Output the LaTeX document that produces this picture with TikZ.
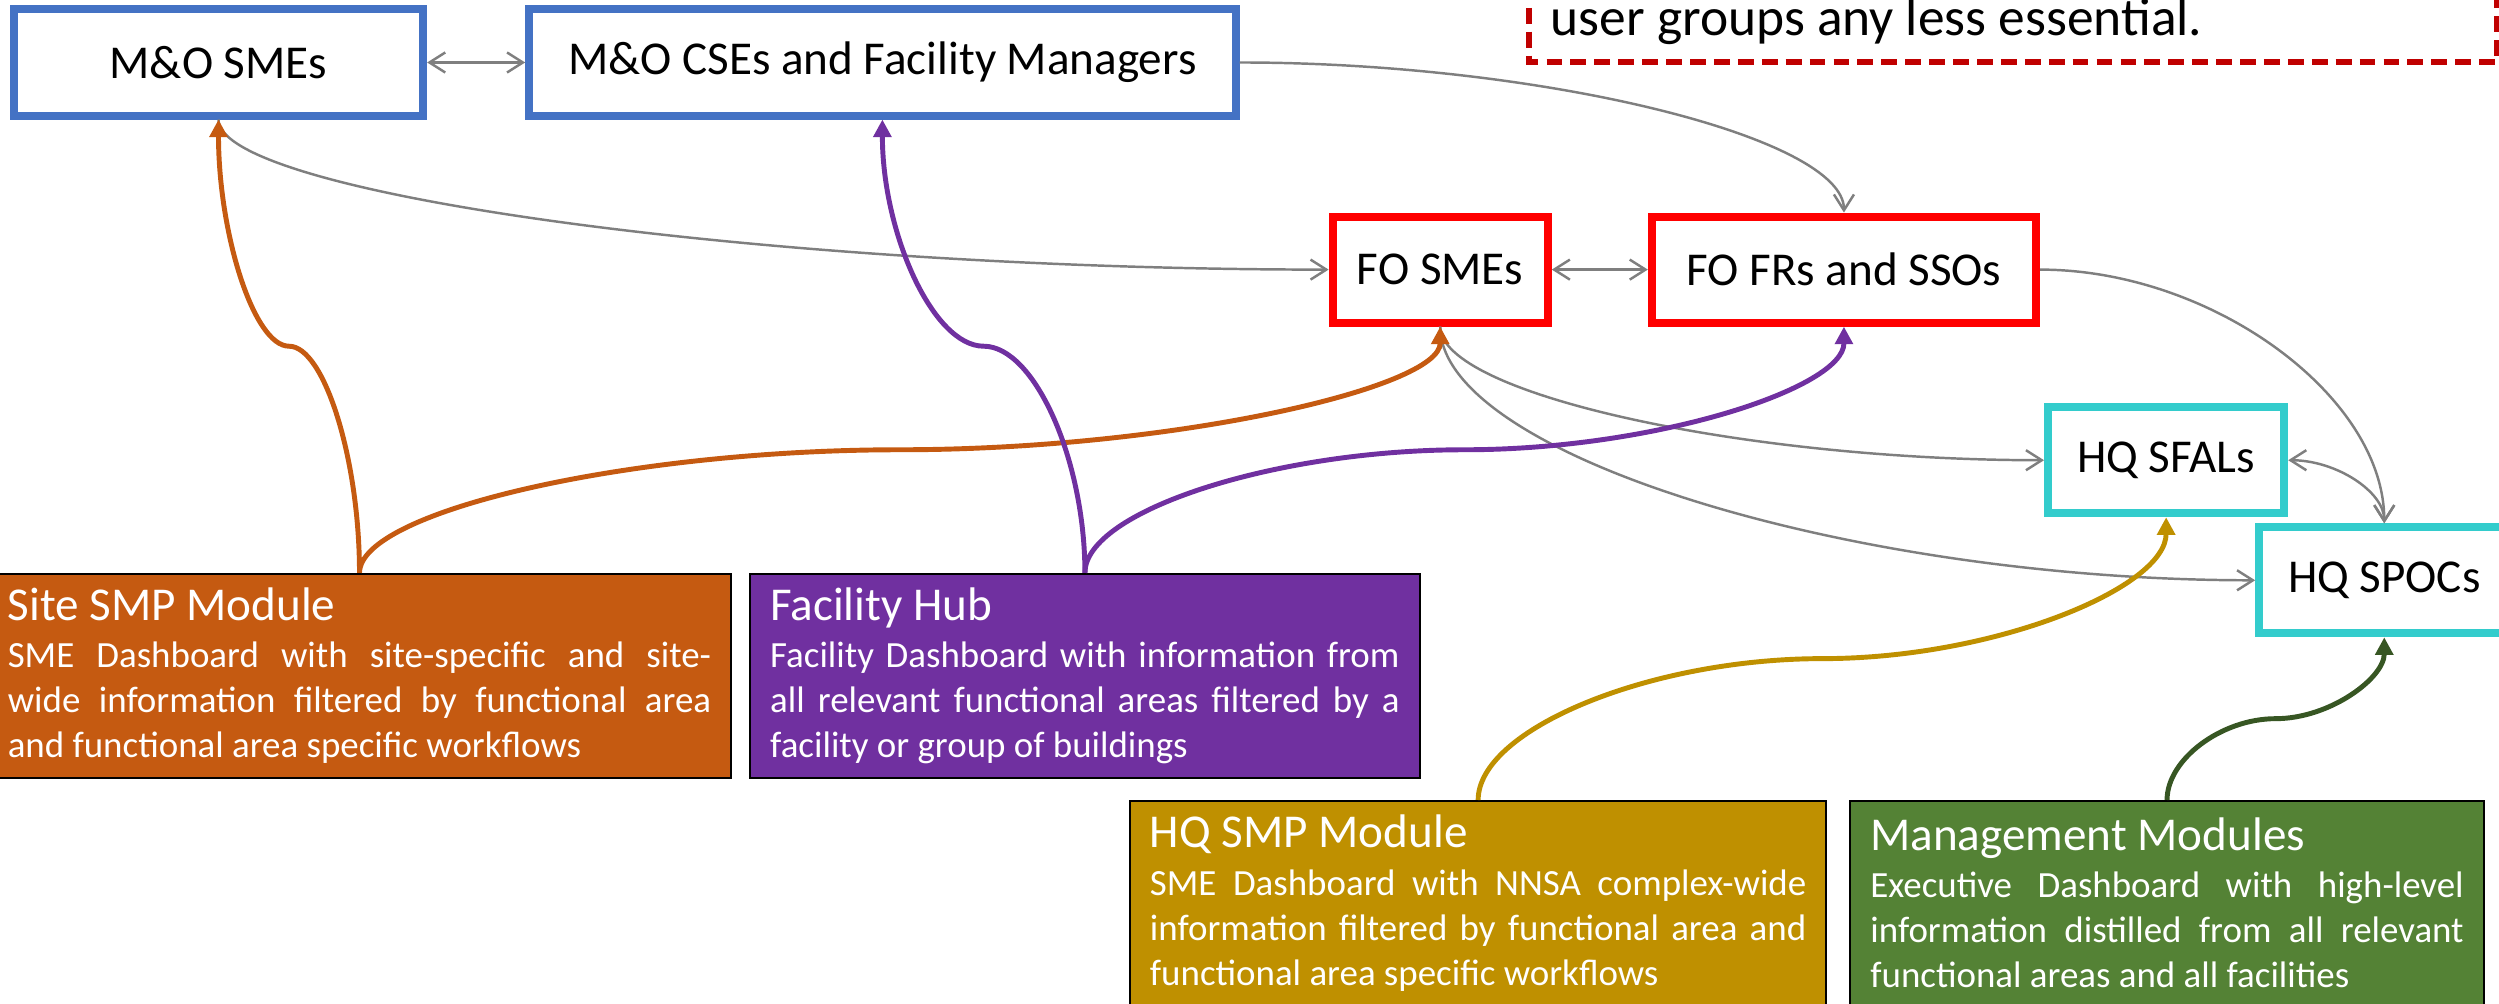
\documentclass[tikz,border=0pt]{standalone}
\usepackage{fontspec}
\setmainfont{Carlito}
\usepackage{tikz}
\usetikzlibrary{arrows.meta,positioning,calc}
\definecolor{moblue}{HTML}{4472C4}
\definecolor{fored}{HTML}{FF0000}
\definecolor{hqcyan}{HTML}{33CCCC}
\definecolor{siteorange}{HTML}{C55A11}
\definecolor{hubpurple}{HTML}{7030A0}
\definecolor{hqgold}{HTML}{BF9000}
\definecolor{mgmtgreen}{HTML}{548235}
\definecolor{mgmtdark}{HTML}{375623}
\definecolor{notered}{HTML}{C00000}
\definecolor{linkgray}{HTML}{7F7F7F}
\newcommand{\headfont}{\fontsize{13.4}{16}\selectfont}
\newcommand{\bodyfont}{\fontsize{10.5}{12.8}\selectfont\tolerance=10000\relax\hyphenpenalty=10000\relax}
\tikzset{barb/.tip={Straight Barb[length=4.5pt,width=5.7pt]},wedge/.tip={Triangle[length=5pt,width=5pt]},
  user node/.style={rectangle,draw,line width=2.28pt,minimum height=1.06cm,inner sep=0pt,font=\headfont},
  module node/.style={rectangle,draw=black,line width=0.6pt,minimum height=2.04cm,inner xsep=0.2cm,inner ysep=0pt,text=white,align=justify,font=\bodyfont},
  link/.style={draw=linkgray,line width=0.7pt,-barb},both link/.style={link,barb-barb},
  feed/.style={draw,line width=1.4pt,-wedge},
  hv/.style={to path={let \p1=(\tikztostart), \p2=(\tikztotarget) in .. controls ({(\x1+\x2)/2},\y1) and (\x2,{(\y1+\y2)/2}) .. (\tikztotarget)}},
  vh/.style={to path={let \p1=(\tikztostart), \p2=(\tikztotarget) in .. controls (\x1,{(\y1+\y2)/2}) and ({(\x1+\x2)/2},\y2) .. (\tikztotarget)}},
  vv/.style={to path={let \p1=(\tikztostart), \p2=(\tikztotarget) in .. controls (\x1,{(3*\y1+\y2)/4}) and ({(3*\x1+\x2)/4},{(\y1+\y2)/2}) .. ({(\x1+\x2)/2},{(\y1+\y2)/2}) .. controls ({(\x1+3*\x2)/4},{(\y1+\y2)/2}) and (\x2,{(\y1+3*\y2)/4}) .. (\tikztotarget)}},
  note text/.style={font=\fontsize{15.2}{18}\selectfont,inner sep=0pt},
  note frame/.style={draw=notered,line width=1.7pt,dash pattern=on 4.5pt off 2.3pt}}
\begin{document}
\begin{tikzpicture}[x=0.01cm,y=-0.01cm]
    \useasboundingbox (0,0) rectangle (2499,1004);
    % user groups
    \node[user node, draw=moblue, minimum width=4.09cm] (msme) at (218.5,62.5) {M\&O SMEs};
    \node[user node, draw=moblue, minimum width=7.06cm, on grid, right=6.635cm of msme] (mcse) {M\&O CSEs and Facility Managers};
    \node[user node, draw=fored, minimum width=2.15cm, on grid, below right=2.07cm and 5.575cm of mcse] (fosme) {FO SMEs};
    \node[user node, draw=fored, minimum width=3.84cm, on grid, right=4.035cm of fosme] (fofr) {FO FRs and SSOs};
    \node[user node, draw=hqcyan, minimum width=2.36cm, on grid, below right=1.905cm and 3.22cm of fofr] (sfal) {HQ SFALs};
    \node[user node, draw=hqcyan, minimum width=2.5cm, on grid, below right=1.2cm and 2.18cm of sfal] (spoc) {HQ SPOCs};

    % modules
    \node[module node, fill=siteorange, text width=7.03cm] (site) at (359.5,676) {{\headfont Site SMP Module}\\[0.6pt]
      SME Dashboard with site-specific and site-\linebreak wide information filtered by functional area\linebreak and functional area specific workflows};
    \node[module node, fill=hubpurple, text width=6.29cm, on grid, right=7.25cm of site] (hub) {{\headfont Facility Hub}\\[0.6pt]
      Facility Dashboard with information from\linebreak all relevant functional areas filtered by a\linebreak facility or group of buildings};
    \node[module node, fill=hqgold, text width=6.56cm, on grid, below right=2.27cm and 3.93cm of hub] (hqsmp) {{\headfont HQ SMP Module}\\[0.6pt]
      SME Dashboard with NNSA complex-wide\linebreak information filtered by functional area and\linebreak functional area specific workflows};
    \node[module node, fill=mgmtgreen, text width=5.93cm, on grid, right=6.885cm of hqsmp] (mgmt) {{\headfont Management Modules}\\[0.6pt]
      Executive Dashboard with high-level\linebreak information distilled from all relevant\linebreak functional areas and all facilities};

    % note
    \node[note text, anchor=base west] (note) at (1550,36) {user groups any less essential.};
    \draw[note frame] (1529,-40) rectangle (2497,62);

    % links between user groups
    \path (msme.east) edge[both link] (mcse.west);
    \path (fosme.east) edge[both link] (fofr.west);
    \path (mcse.east) edge[link, hv] (fofr.north);
    \path (msme.south) edge[link, vh] (fosme.west);
    \path (fofr.east) edge[link, hv] (spoc.north);
    \path (fosme.south) edge[link, vh] (sfal.west);
    \path (fosme.south) edge[link, vh] (spoc.west);
    \path (sfal.east) edge[both link, hv] (spoc.north);

    % module feeds
    \path (site.north) edge[feed, siteorange, vv] (msme.south);
    \path (site.north) edge[feed, siteorange, vv] (fosme.south);
    \path (hub.north) edge[feed, hubpurple, vv] (mcse.south);
    \path (hub.north) edge[feed, hubpurple, vv] (fofr.south);
    \path (hqsmp.north) edge[feed, hqgold, vv] (sfal.south);
    \path (mgmt.north) edge[feed, mgmtdark, vv] (spoc.south);
\end{tikzpicture}
\end{document}
